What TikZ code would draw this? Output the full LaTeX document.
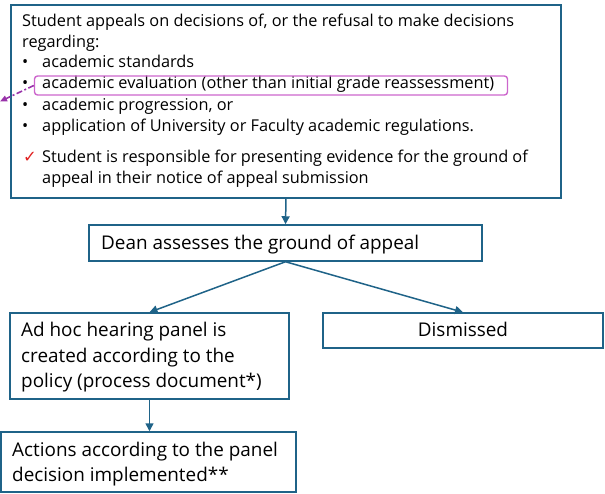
\documentclass[tikz,border=0pt]{standalone}
\usepackage{fontspec}
\setmainfont{Open Sans}
\newfontfamily\symfont{DejaVu Sans}
\usetikzlibrary{arrows.meta,positioning}
\definecolor{flowblue}{HTML}{1F6388}
\definecolor{hilite}{HTML}{CC66CC}
\definecolor{pointer}{HTML}{9933AA}
\definecolor{checkred}{HTML}{E02020}
\begin{document}
\begin{tikzpicture}
[
    x=1pt, y=-1pt,
    stepbox/.style={draw=flowblue,line width=1.5pt,inner sep=0pt},
    txt/.style={anchor=base west,inner sep=0pt,font=\fontsize{16.3}{21}\selectfont},
    bigtxt/.style={txt,font=\fontsize{18.9}{24}\selectfont},
    flow/.style={draw=flowblue,line width=1.5pt,-{Triangle[length=8pt,width=8pt]}}
  ]
  \useasboundingbox (0,0) rectangle (605,494);

  % boxes
  \node[stepbox,minimum width=550,minimum height=193] (appeal) at (286,101.5) {};
  \node[stepbox,minimum width=393,minimum height=36] (dean) at (285.5,243) {};
  \node[stepbox,minimum width=279,minimum height=86] (panel) at (149.5,356) {};
  \node[stepbox,minimum width=280,minimum height=35] (dismissed) at (463,330.5) {};
  \node[stepbox,minimum width=295,minimum height=60] (actions) at (148.5,462) {};

  % text of the appeal box
  \node[txt] (l1) at (22,26.5) {Student appeals on decisions of, or the refusal to make decisions};
  \node[txt] (l2) at (22,47.5) {regarding:};
  \foreach \y/\t [count=\i] in {68/academic standards,
      89/academic evaluation (other than initial grade reassessment),
      110.5/{academic progression, or},
      131.5/application of University or Faculty academic regulations.}
  {
    \node[txt] (b\i) at (22,\y) {•};
    \node[txt] (item\i) at (42,\y) {\t};
  }
  \node[txt,text=checkred] (check) at (23,163) {\symfont ✓};
  \node[txt] (l3) at (42,163) {Student is responsible for presenting evidence for the ground of};
  \node[txt] (l4) at (42,184) {appeal in their notice of appeal submission};

  % highlighted item
  \node[draw=hilite,line width=1.4pt,rounded corners=3pt,minimum width=473,minimum height=19,inner sep=0pt] (mark) at (271,85.5) {};
  \coordinate (tip) at (0,101.5);
  \draw[pointer,line width=1.6pt,dash pattern=on 6pt off 2.5pt on 2pt off 2.5pt,-{Triangle[length=7pt,width=6pt]}] (mark.west) -- (tip);

  % text of the other boxes
  \node[bigtxt] (deantxt) at (101,250) {Dean assesses the ground of appeal};
  \node[bigtxt] (p1) at (21,337) {Ad hoc hearing panel is};
  \node[bigtxt] (p2) at (21,362) {created according to the};
  \node[bigtxt] (p3) at (21,387) {policy (process document*)};
  \node[bigtxt,anchor=base] (distxt) at (463,336) {Dismissed};
  \node[bigtxt] (a1) at (12,456.5) {Actions according to the panel};
  \node[bigtxt] (a2) at (12,481.5) {decision implemented**};

  % connectors
  \draw[flow] (appeal.south) -- (dean.north);
  \draw[flow] (dean.south) -- (panel.north);
  \draw[flow] (dean.south) -- (dismissed.north);
  \draw[flow] (panel.south) -- (panel.south |- actions.north);
\end{tikzpicture}
\end{document}
